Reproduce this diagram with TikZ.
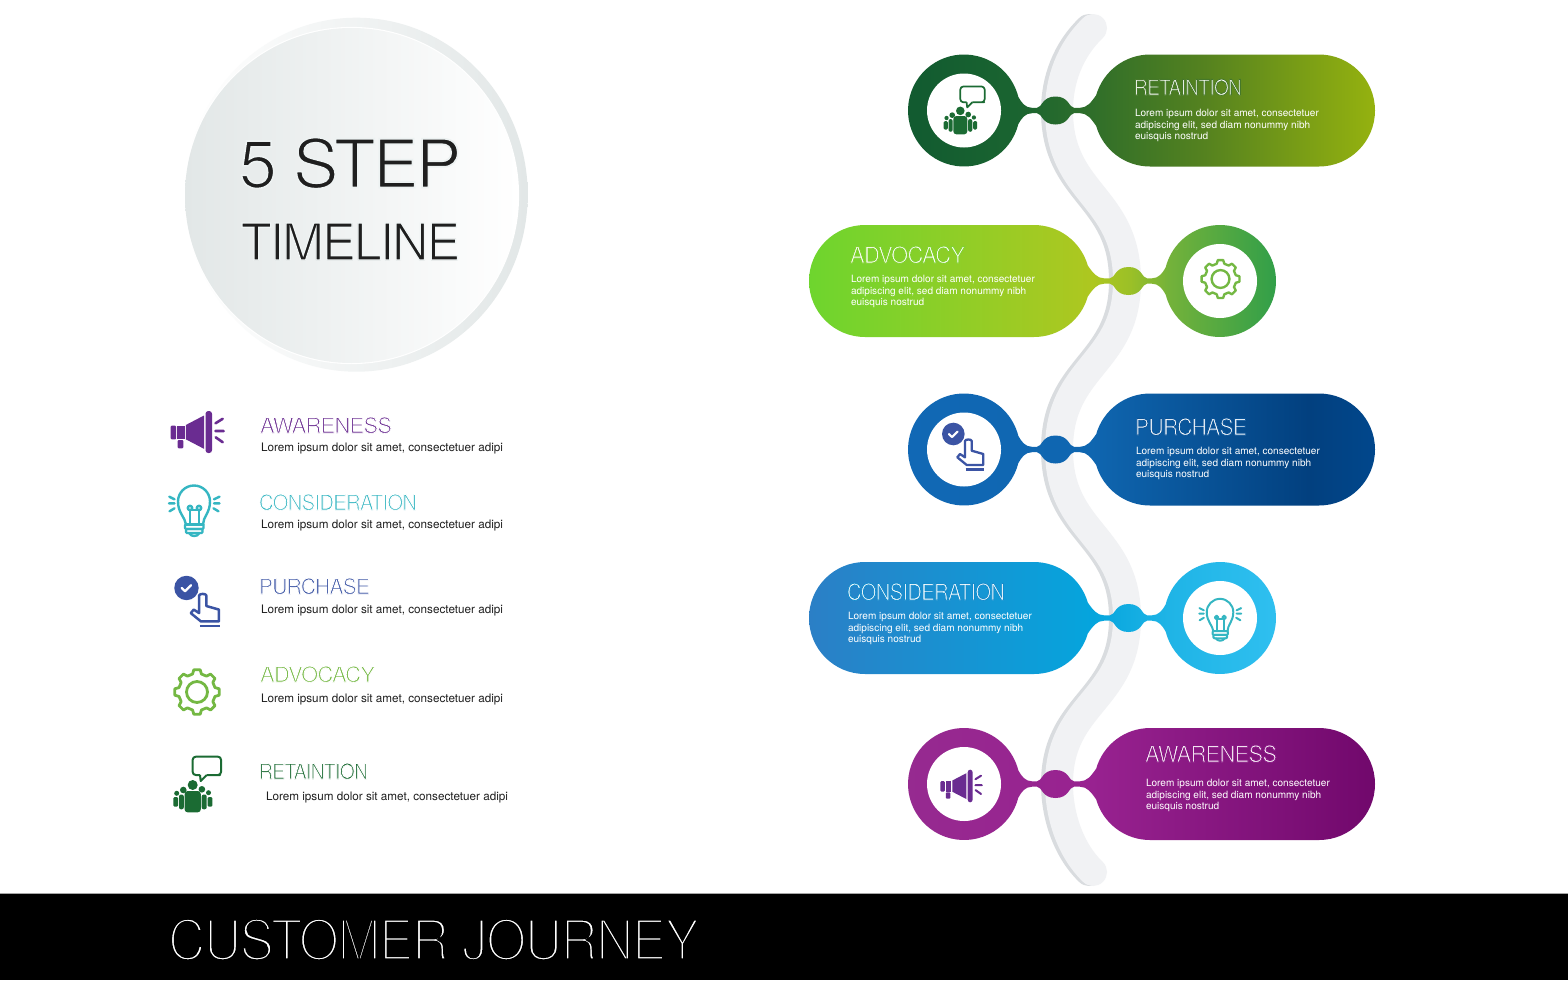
\documentclass[tikz,border=0pt]{standalone}
\usepackage{fontspec}
\usepackage{graphicx}
\setmainfont{TeX Gyre Heros}
\definecolor{rA}{HTML}{115A30}\definecolor{rB}{HTML}{1A6430}\definecolor{rC}{HTML}{2F6E2A}\definecolor{rD}{HTML}{55821F}\definecolor{rE}{HTML}{95B20F}
\definecolor{gA}{HTML}{6ED52E}\definecolor{gB}{HTML}{AEC720}\definecolor{gC}{HTML}{9BC027}\definecolor{gD}{HTML}{74B23A}\definecolor{gE}{HTML}{2E9E4A}
\definecolor{bA}{HTML}{1168B5}\definecolor{bB}{HTML}{0F66B0}\definecolor{bC}{HTML}{02407F}\definecolor{bD}{HTML}{01478C}
\definecolor{cA}{HTML}{2B7FC6}\definecolor{cB}{HTML}{05A5DD}\definecolor{cC}{HTML}{1FB4E6}\definecolor{cD}{HTML}{30C0F0}
\definecolor{pA}{HTML}{962A90}\definecolor{pB}{HTML}{982290}\definecolor{pC}{HTML}{71086C}
\definecolor{cAware}{HTML}{6A2C91}\definecolor{cCons}{HTML}{35B6C2}\definecolor{cPurch}{HTML}{3B54A4}\definecolor{cAdv}{HTML}{74B843}\definecolor{cRet}{HTML}{1B6B33}
\definecolor{ribbonA}{HTML}{D9DCDF}\definecolor{ribbonB}{HTML}{F1F2F4}
\definecolor{ringC}{HTML}{E2E7E7}
\pgfdeclarehorizontalshading{rowOne}{100bp}{color(0bp)=(rA); color(25bp)=(rA); color(37bp)=(rB); color(45bp)=(rC); color(57bp)=(rD); color(75bp)=(rE); color(100bp)=(rE)}
\pgfdeclarehorizontalshading{rowTwo}{100bp}{color(0bp)=(gA); color(25bp)=(gA); color(55bp)=(gB); color(59bp)=(gC); color(63bp)=(gD); color(75bp)=(gE); color(100bp)=(gE)}
\pgfdeclarehorizontalshading{rowThree}{100bp}{color(0bp)=(bA); color(25bp)=(bA); color(45bp)=(bB); color(68bp)=(bC); color(75bp)=(bD); color(100bp)=(bD)}
\pgfdeclarehorizontalshading{rowFour}{100bp}{color(0bp)=(cA); color(25bp)=(cA); color(55bp)=(cB); color(63bp)=(cC); color(75bp)=(cD); color(100bp)=(cD)}
\pgfdeclarehorizontalshading{rowFive}{100bp}{color(0bp)=(pA); color(25bp)=(pA); color(45bp)=(pB); color(75bp)=(pC); color(100bp)=(pC)}
% thinned text: glyph outlines stroked in the colour of what lies behind
\newcommand{\thinT}[3]{\special{pdf:code q 2 Tr #1 w #2 RG}#3\special{pdf:code Q}}
\newcommand{\fitT}[5]{\resizebox{#1pt}{#2pt}{\addfontfeature{LetterSpace=-3.5}\thinT{#3}{#4}{#5}}}
\newcommand{\rowshape}[4]{%
  \begin{scope}[shift={(#1,#2)},x=1pt,y=1pt,xscale=#3]
  \path[shading=#4,shading angle=0]
   (14:56) .. controls (57.5,8) and (61,2.7) .. (68,2.7) -- (73,2.7)
   .. controls (78,2.7) and (78,14) .. (91.5,14) .. controls (105,14) and (105,2.7) .. (110,2.7)
   -- (116,2.7) .. controls (123,2.7) and (127,8) .. (132.2,15.4)
   arc[start angle=164,end angle=90,radius=56] -- (355,56)
   arc[start angle=90,end angle=-90,radius=56] -- (186,-56)
   arc[start angle=-90,end angle=-164,radius=56]
   .. controls (127,-8) and (123,-2.7) .. (116,-2.7) -- (110,-2.7)
   .. controls (105,-2.7) and (105,-14) .. (91.5,-14) .. controls (78,-14) and (78,-2.7) .. (73,-2.7)
   -- (68,-2.7) .. controls (61,-2.7) and (57.5,-8) .. (-14:56)
   arc[start angle=-14,end angle=-346,radius=56] -- cycle;
  \fill[white] (0,0) circle[radius=37];
  \end{scope}}
\newcommand{\icoMega}[4]{\begin{scope}[shift={(#1,#2)},x=1pt,y=1pt,scale=#3]
  \fill[#4,rounded corners=1pt] (-26.3,6.3) rectangle (-20.8,-7.3);
  \fill[#4] (-19.8,6.3) rectangle (-12.3,-7.3);
  \fill[#4,rounded corners=1pt] (-19.3,-8) rectangle (-13.7,-16.3);
  \fill[#4] (-11.2,7) -- (7,16.5) -- (7,-16.8) -- (-11.2,-7.3) -- cycle;
  \fill[#4,rounded corners=2.8pt] (8.5,21) rectangle (15,-21);
  \draw[#4,line width=2.6pt*#3,line cap=round] (18.5,8.7) -- (25.7,13.2) (18.5,1) -- (26.7,1) (18.7,-5.3) -- (25.7,-10.2);
  \end{scope}}
\newcommand{\icoBulb}[4]{\begin{scope}[shift={(#1,#2)},x=1pt,y=1pt,scale=#3]
  \begin{scope}[#4,line width=2.4pt*#3,line cap=round,line join=round]
  \draw (-8,-13.5) .. controls (-9,-6) and (-16,-2) .. (-16,9.5) arc[start angle=180,end angle=0,radius=16] .. controls (16,-2) and (9,-6) .. (9,-13.5);
  \draw (-8.5,-13.5) -- (9.5,-13.5);
  \draw (-4,-13.5) -- (-4,1) (5,-13.5) -- (5,1);
  \draw (-4,3) circle[radius=2.2] (5,3) circle[radius=2.2];
  \draw (-1.8,1.2) -- (2.8,1.2);
  \draw[rounded corners=1pt] (-9,-13.5) rectangle (9.5,-18);
  \draw[rounded corners=1pt] (-8,-18) rectangle (8.5,-22);
  \draw (-5,-22) .. controls (-3,-26) and (3.5,-26) .. (5.5,-22);
  \draw (-24.7,14.3) -- (-19.5,11.7) (-25,7.7) -- (-19.5,7.7) (-24.5,-0.3) -- (-19.5,2.7);
  \draw (25.5,14.3) -- (20,11.7) (25.5,7.7) -- (20,7.7) (24.5,-0.3) -- (19.5,2.7);
  \end{scope}\end{scope}}
\newcommand{\icoHand}[4]{\begin{scope}[shift={(#1,#2)},x=1pt,y=1pt,scale=#3]
  \draw[#4,line width=2.3pt*#3,line join=round,line cap=round]
   (1.5,-10.3) -- (1.5,6) .. controls (1.5,8) and (8.2,8) .. (8.2,6) -- (8.2,-3.7) -- (19.8,-7) -- (19.8,-18) -- (3.2,-18) -- (-6.2,-10.3) -- (-3.5,-7) -- cycle;
  \draw[#4,line width=2.4pt*#3] (2.2,-22.3) -- (20.5,-22.3);
  \fill[#4] (-10.2,13) circle[radius=11.3];
  \draw[white,line width=2.1pt*#3,line cap=round,line join=round] (-14.7,13) -- (-11.5,10) -- (-6,15.5);
  \end{scope}}
\newcommand{\icoGear}[4]{\begin{scope}[shift={(#1,#2)},x=1pt,y=1pt,scale=#3]
  \draw[#4,line width=2.8pt*#3,line join=round]
   (0-14:18.5) \foreach \a in {0,45,...,315}{ -- (\a-14:18.5) -- (\a-8:22.5) -- (\a+8:22.5) -- (\a+14:18.5)} -- cycle;
  \draw[#4,line width=2.8pt*#3] (0,0) circle[radius=10.5];
  \end{scope}}
\newcommand{\icoPeople}[4]{\begin{scope}[shift={(#1,#2)},x=1pt,y=1pt,scale=#3]
  \draw[#4,line width=2pt*#3,line join=round,rounded corners=3pt]
   (9.7,9) -- (20,9) -- (24,9) -- (24,27.3) -- (-4.3,27.3) -- (-4.3,9) -- (3,9);
  \draw[#4,line width=2pt*#3,line join=round] (3,9) -- (3.7,3) -- (9.7,9);
  \fill[#4] (-4.3,-1) circle[radius=5] (-13.7,-6) circle[radius=3.3] (4.9,-5.3) circle[radius=3.3] (-20.3,-9.3) circle[radius=2.5] (11.5,-8.7) circle[radius=2.5];
  \fill[#4,rounded corners=3pt] (-12.4,-7) rectangle (3.8,-28.3);
  \fill[#4,rounded corners=2pt] (-18,-10.5) rectangle (-13.2,-25.3) (4.7,-10.5) rectangle (9.7,-25.3);
  \fill[#4,rounded corners=1.2pt] (-23.7,-13) rectangle (-18.9,-22.7) (10.6,-13) rectangle (15.3,-22.7);
  \end{scope}}
\tikzset{
  titleT/.style={anchor=base west,inner sep=0pt,outer sep=0pt},
  bodyL/.style={anchor=west,inner sep=0pt,outer sep=0pt,font=\fontsize{11.7}{12}\selectfont,text=black!88},
  bodyR/.style={anchor=north west,inner sep=0pt,outer sep=0pt,align=left,text=white,font=\fontsize{10.05}{11.7}\selectfont}
}
\begin{document}
\begin{tikzpicture}[x=1pt,y=-1pt]
\useasboundingbox (0,0) rectangle (1568,980);
\fill[white] (0,0) rectangle (1568,980);
% big disc
\shade[left color=white,right color=ringC] (356.3,194.7) ellipse[x radius=171.4,y radius=177];
\fill[white] (351.5,195.5) ellipse[x radius=167.6,y radius=168.6];
\shade[left color=ringC,middle color=ringC!45!white,right color=white] (351.5,195.5) ellipse[x radius=166.5,y radius=167.5];
\node[titleT,text=black!88] (titleA) at (239,187.5) {\fitT{222}{50}{0.25}{0.93 0.95 0.95}{5 STEP}};
\node[titleT,text=black!88] (titleB) at (241,260) {\fitT{219}{37}{0.25}{0.94 0.96 0.96}{TIMELINE}};
% ribbon
\foreach \dx/\col in {-2/ribbonA,2/ribbonB}{
\draw[\col,line width=28pt,line cap=round,xshift=\dx pt]
 (1091,28) .. controls (1068,50) and (1057,80) .. (1057,110.5)
 .. controls (1057,195) and (1125,195) .. (1125,281)
 .. controls (1125,365) and (1057,365) .. (1057,449.5)
 .. controls (1057,534) and (1125,534) .. (1125,618)
 .. controls (1125,702) and (1057,702) .. (1057,784)
 .. controls (1057,815) and (1068,850) .. (1091,872);}
% rows
\rowshape{964}{110.5}{1}{rowOne}
\rowshape{1220}{281}{-1}{rowTwo}
\rowshape{964}{449.5}{1}{rowThree}
\rowshape{1220}{618}{-1}{rowFour}
\rowshape{964}{784}{1}{rowFive}
% row icons
\icoPeople{964}{110}{0.86}{cRet}
\icoGear{1220.5}{279}{0.85}{cAdv}
\icoHand{963.5}{447}{1}{cPurch}
\icoBulb{1220}{620}{0.83}{cCons}
\icoMega{961}{786}{0.78}{cAware}
% row text
\newcommand{\lrm}{Lorem ipsum dolor sit amet, consectetuer\\adipiscing elit, sed diam nonummy nibh\\euisquis nostrud}
\node[titleT,text=white] (t1) at (1134,95) {\fitT{108}{16}{0.4}{0.27 0.47 0.16}{RETAINTION}};
\node[bodyR] (d1) at (1135,109.2) {\lrm};
\node[titleT,text=white] (t2) at (850,263) {\fitT{115}{17}{0.4}{0.5 0.82 0.18}{ADVOCACY}};
\node[bodyR] (d2) at (851,275) {\lrm};
\node[titleT,text=white] (t3) at (1135,435) {\fitT{112}{17}{0.4}{0.04 0.33 0.6}{PURCHASE}};
\node[bodyR] (d3) at (1136,447.2) {\lrm};
\node[titleT,text=white] (t4) at (847,600) {\fitT{158}{17}{0.4}{0.08 0.55 0.8}{CONSIDERATION}};
\node[bodyR] (d4) at (848,612) {\lrm};
\node[titleT,text=white] (t5) at (1145,762) {\fitT{132}{17}{0.4}{0.54 0.1 0.52}{AWARENESS}};
\node[bodyR] (d5) at (1146,779) {\lrm};
% left list
\icoMega{197}{432}{1}{cAware}
\icoBulb{194}{511}{1}{cCons}
\icoHand{197.5}{602}{1.08}{cPurch}
\icoGear{197}{692}{1}{cAdv}
\icoPeople{197}{784}{1}{cRet}
\newcommand{\lrmB}{Lorem ipsum dolor sit amet, consectetuer adipi}
\node[titleT,text=cAware] (l1) at (260,433) {\fitT{132}{16}{0.4}{1 1 1}{AWARENESS}};
\node[bodyL] (m1) at (261,448.2) {\lrmB};
\node[titleT,text=cCons] (l2) at (259,510) {\fitT{158}{16}{0.4}{1 1 1}{CONSIDERATION}};
\node[bodyL] (m2) at (261,525.2) {\lrmB};
\node[titleT,text=cPurch] (l3) at (259,594) {\fitT{111}{16}{0.4}{1 1 1}{PURCHASE}};
\node[bodyL] (m3) at (261,610.2) {\lrmB};
\node[titleT,text=cAdv] (l4) at (260,682) {\fitT{115}{16}{0.4}{1 1 1}{ADVOCACY}};
\node[bodyL] (m4) at (261,699.7) {\lrmB};
\node[titleT,text=cRet] (l5) at (259,779) {\fitT{109}{16}{0.4}{1 1 1}{RETAINTION}};
\node[bodyL] (m5) at (266,797.7) {\lrmB};
% footer
\fill[black] (0,894) rectangle (1568,980);
\draw[black!35,line width=1pt] (0,893.5) -- (1568,893.5);
\node[titleT,text=white] (foot) at (168,960) {\fitT{531}{42}{0.6}{0 0 0}{CUSTOMER JOURNEY}};
\end{tikzpicture}
\end{document}
